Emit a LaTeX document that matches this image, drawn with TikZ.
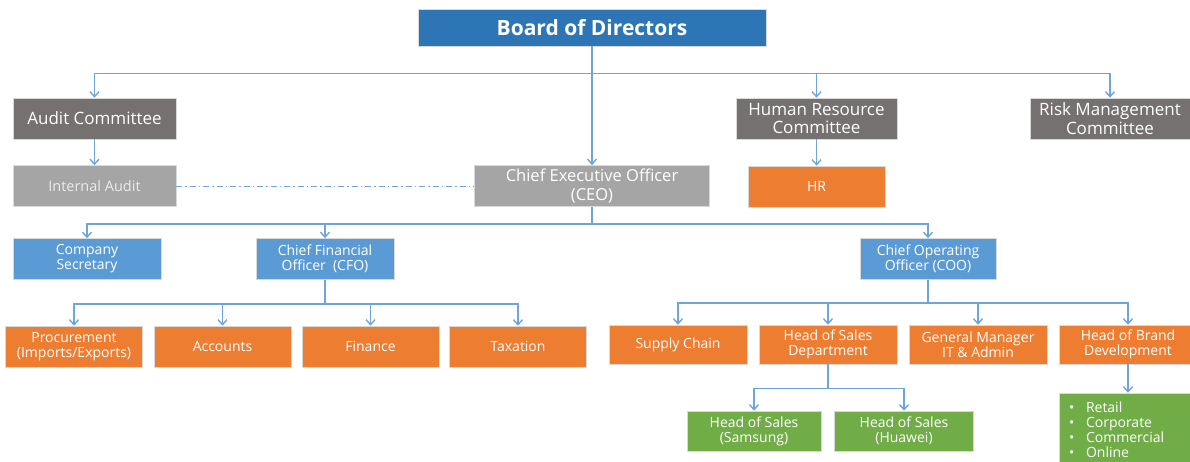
\documentclass[tikz,border=0pt]{standalone}
\usepackage{fontspec}
\setmainfont{Open Sans}
\usepackage{xcolor}
\usetikzlibrary{arrows.meta}

\definecolor{azulesc}{HTML}{2E75B6}
\definecolor{azul}{HTML}{5B9BD5}
\definecolor{laranja}{HTML}{ED7D31}
\definecolor{verde}{HTML}{70AD47}
\definecolor{cinzaesc}{HTML}{767171}
\definecolor{cinza}{HTML}{A5A5A5}
\definecolor{azullinha}{HTML}{6FA5DC}

\tikzset{
    caixa/.style={draw=white!85!black, line width=0.6pt, text=white, align=center,
        inner sep=0pt, minimum height=41pt, font=\fontsize{14}{15}\selectfont},
    comite/.style={caixa, fill=cinzaesc, font=\fontsize{17}{18.5}\selectfont},
    liga/.style={draw=azullinha, line width=1.4pt},
}

\begin{document}
\begin{tikzpicture}[x=1pt, y=-1pt, >={Straight Barb[length=5pt,width=9pt]}]
    \useasboundingbox (0,0) rectangle (1190,461);

    % Conselho e comites
    \node[caixa, fill=azulesc, minimum width=348pt, minimum height=37pt,
        font=\fontsize{21}{24}\selectfont\bfseries] (board) at (592,27.5) {Board of Directors};
    \node[comite, minimum width=163pt] (audit) at (94.5,118.5) {Audit Committee};
    \node[comite, minimum width=161pt] (hrcom) at (816.5,118.5) {Human Resource\\Committee};
    \node[comite, minimum width=160pt] (risk) at (1110,118.5) {Risk Management\\Committee};

    % Segundo nivel
    \node[caixa, fill=cinza, text=white!92!black, minimum width=163pt,
        font=\fontsize{14.5}{16}\selectfont] (intaudit) at (94.5,186) {Internal Audit};
    \node[caixa, fill=cinza, minimum width=235pt,
        font=\fontsize{16.5}{18.3}\selectfont] (ceo) at (592,186) {Chief Executive Officer\\(CEO)};
    \node[caixa, fill=laranja, minimum width=137pt] (hr) at (816.5,186.5) {HR};

    % Diretoria
    \node[caixa, fill=azul, minimum width=148pt] (cs) at (87,259) {Company\\Secretary};
    \node[caixa, fill=azul, minimum width=138pt] (cfo) at (325,259) {Chief Financial\\Officer\ \ (CFO)};
    \node[caixa, fill=azul, minimum width=136pt] (coo) at (928,259) {Chief Operating\\Officer (COO)};

    % Departamentos
    \foreach \n/\x/\t in {proc/74/{Procurement\\(Imports/Exports)}, acc/222.5/Accounts,
            fin/370.5/Finance, tax/518/Taxation}
        \node[caixa, fill=laranja, minimum width=137pt] (\n) at (\x,346.5) {\t};
    \foreach \n/\x/\t in {supply/678/Supply Chain, hsd/828/{Head of Sales\\Department},
            gm/978/{General Manager\\IT \& Admin}, brand/1128/{Head of Brand\\Development}}
        \node[caixa, fill=laranja, minimum width=138pt, minimum height=39pt] (\n) at (\x,344.5) {\t};

    % Vendas e marcas
    \node[caixa, fill=verde, minimum width=134pt, minimum height=40pt] (samsung) at (754,431) {Head of Sales\\(Samsung)};
    \node[caixa, fill=verde, minimum width=139pt, minimum height=40pt] (huawei) at (904,431) {Head of Sales\\(Huawei)};
    \node[caixa, fill=verde, minimum width=138pt, minimum height=73pt, text width=118pt,
        align=left] (lista) at (1128,429.5)
        {\makebox[17pt][l]{\textbullet}Retail\\\makebox[17pt][l]{\textbullet}Corporate\\
         \makebox[17pt][l]{\textbullet}Commercial\\\makebox[17pt][l]{\textbullet}Online};

    % Ligacoes
    \draw[liga, ->] (board.south) -- (ceo.north);
    \foreach \c in {audit, hrcom, risk}
        \draw[liga, ->] (board.south) -- ++(0,27) -| (\c.north);
    \draw[liga, ->] (audit) -- (intaudit);
    \draw[liga, ->] (hrcom) -- (hr);
    \draw[liga, line width=1pt, dash pattern=on 6pt off 3pt on 1.5pt off 3pt] (intaudit.east) -- (ceo.west);

    \foreach \c in {cs, cfo, coo}
        \draw[liga, ->] (ceo.south) -- ++(0,17) -| (\c.north);
    \foreach \c in {proc, acc, fin, tax}
        \draw[liga, ->] (cfo.south) -- ++(0,24) -| (\c.north);
    \foreach \c in {supply, hsd, gm, brand}
        \draw[liga, ->] (coo.south) -- ++(0,23) -| (\c.north);
    \foreach \c in {samsung, huawei}
        \draw[liga, ->] (hsd.south) -- ++(0,24) -| (\c.north);
    \draw[liga, ->] (brand) -- (lista);
\end{tikzpicture}
\end{document}
